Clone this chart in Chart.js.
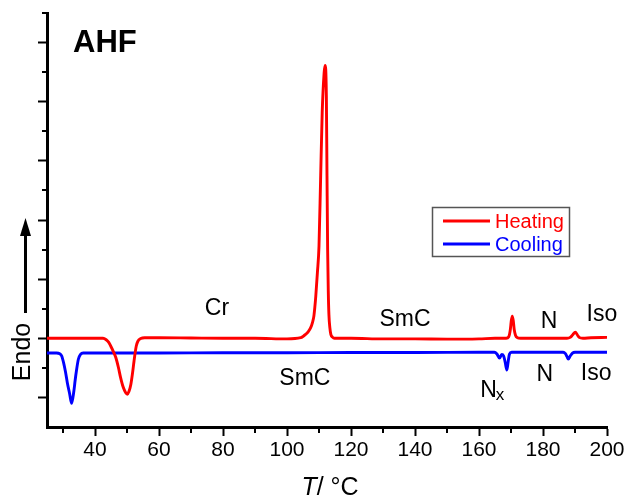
<!DOCTYPE html>
<html><head><meta charset="utf-8">
<script src="https://cdn.jsdelivr.net/npm/chart.js@4.4.0/dist/chart.umd.min.js"></script>
<style>html,body{margin:0;padding:0;background:#fff;}#wrap{width:629px;height:499px;position:relative;}</style>
</head><body><div id="wrap"><canvas id="c" width="629" height="499"></canvas></div>
<script>
// ---- data (temperature in °C, heat flow in arbitrary units) ----
const heatingT = [25,30,35,40,42.5,43.5,44.3,44.9,45.7,46.5,
  47.3,48,48.8,49.6,50.1,50.6,51.2,51.7,52.2,52.6,
  52.9,53.4,54.3,55.5,60,70,80,90,100,104.3,
  105.1,105.8,106.6,107.4,108,108.4,108.7,109,109.5,110,
  110.5,111,111.6,111.9,112.3,112.5,112.7,112.9,113.1,113.4,
  113.7,114.2,114.8,116,120,130,140,150,160,165,
  168.5,169.3,169.8,170.1,170.4,170.7,171.0,171.4,172,173,
  180,185,187.5,188.5,189.3,190.1,190.7,191.3,192.5,195,200];
const heatingV = [0,0,0,0,0,-0.05,-0.14,-0.26,-0.44,-0.65,
  -0.98,-1.33,-1.65,-1.84,-1.89,-1.8,-1.56,-1.2,-0.77,-0.45,
  -0.26,-0.1,-0.01,0.02,0.02,0.01,0.0,0.0,-0.02,0.02,
  0.07,0.13,0.22,0.36,0.55,0.75,1.05,1.43,2.22,3.12,
  5.38,7.63,8.98,9.23,8.2,5.5,3.0,1.6,0.8,0.35,
  0.13,0.04,0.0,0.0,0.0,-0.02,-0.02,-0.03,-0.02,0.0,
  0.0,0.05,0.3,0.6,0.75,0.6,0.3,0.1,0.02,0.0,
  0.0,0.0,0.0,0.03,0.12,0.21,0.12,0.03,0.0,0.02,0.03];
const coolingT = [25,28,29,29.6,30.3,30.8,31.35,32.1,32.7,33.4,
  33.8,34.2,34.8,35.5,36.3,37.5,60,80,100,120,
  140,160,164.8,165.6,166.4,167.1,167.7,168.2,168.7,169.1,
  169.5,170.2,175,180,186.3,187,187.5,187.9,188.5,189.2,
  190,195,200];
const coolingV = [-0.5,-0.5,-0.52,-0.6,-0.88,-1.15,-1.5,-1.89,-2.2,-1.78,
  -1.42,-1.1,-0.71,-0.54,-0.5,-0.5,-0.5,-0.49,-0.49,-0.48,
  -0.48,-0.47,-0.47,-0.53,-0.67,-0.55,-0.6,-0.82,-1.07,-0.8,
  -0.54,-0.47,-0.47,-0.47,-0.47,-0.52,-0.62,-0.7,-0.6,-0.5,
  -0.47,-0.47,-0.47];
const seriesNames = ['Heating','Cooling'];
const seriesColors = ['#ff0000','#0000ff'];
const xTickLabels = [40,60,80,100,120,140,160,180,200];
const xMinorTicks = [30,50,70,90,110,130,150,170,190];
const yMajorTicks = [-2,0,2,4,6,8,10];
const yMinorTicks = [-1,1,3,5,7,9,11];
const phaseLabels = ['Cr','SmC','N','Iso','SmC','N_x','N','Iso'];
const phaseT = [78.1,136.9,181.9,198.4,105.6,164.3,180.6,196.6];
const phaseV = [1.05,0.71,0.64,0.85,-1.29,-1.72,-1.18,-1.12];
const sampleName = 'AHF';
const xTitle = ['T', '/ °C'];
const yTitle = 'Endo';

const FONT = "'Liberation Sans', Arial, sans-serif";

const decor = {
  id: 'decor',
  afterDraw(chart) {
    const ctx = chart.ctx, xs = chart.scales.x, ys = chart.scales.y, ca = chart.chartArea;
    ctx.save();
    // minor ticks
    ctx.strokeStyle = '#000'; ctx.lineWidth = 2;
    ctx.beginPath();
    xMinorTicks.forEach(v => { const p = Math.round(xs.getPixelForValue(v)); ctx.moveTo(p, ca.bottom); ctx.lineTo(p, ca.bottom + 6); });
    yMinorTicks.forEach(v => { const p = Math.round(ys.getPixelForValue(v)); ctx.moveTo(ca.left, p); ctx.lineTo(ca.left - 5, p); });
    ctx.stroke();
    // phase labels
    ctx.fillStyle = '#000';
    ctx.textAlign = 'center'; ctx.textBaseline = 'alphabetic';
    const fs = 23;
    phaseLabels.forEach((lab, i) => {
      const px = xs.getPixelForValue(phaseT[i]);
      const py = ys.getPixelForValue(phaseV[i]) + fs * 0.358;
      if (lab.includes('_')) {
        const [a, b] = lab.split('_');
        ctx.font = fs + 'px ' + FONT;
        const wa = ctx.measureText(a).width;
        ctx.font = '17px ' + FONT;
        const wb = ctx.measureText(b).width;
        const x0 = px - (wa + wb) / 2;
        ctx.textAlign = 'left';
        ctx.font = fs + 'px ' + FONT;
        ctx.fillText(a, x0, py);
        ctx.font = '17px ' + FONT;
        ctx.fillText(b, x0 + wa - 1, py + 3);
        ctx.textAlign = 'center';
      } else {
        ctx.font = fs + 'px ' + FONT;
        ctx.fillText(lab, px, py);
      }
    });
    // sample name
    ctx.textAlign = 'left';
    ctx.font = 'bold 31px ' + FONT;
    ctx.fillText(sampleName, ca.left + 26, ca.top + 39);
    // x title
    ctx.font = 'italic 25px ' + FONT;
    const w1 = ctx.measureText(xTitle[0]).width;
    ctx.font = '25px ' + FONT;
    const w2 = ctx.measureText(xTitle[1]).width;
    const cx = (ca.left + ca.right) / 2 + 3;
    let tx = cx - (w1 + w2) / 2;
    ctx.font = 'italic 25px ' + FONT;
    ctx.fillText(xTitle[0], tx, 495);
    ctx.font = '25px ' + FONT;
    ctx.fillText(xTitle[1], tx + w1, 495);
    // y title rotated
    ctx.save();
    ctx.translate(30, 352);
    ctx.rotate(-Math.PI / 2);
    ctx.textAlign = 'center';
    ctx.font = '25px ' + FONT;
    ctx.fillText(yTitle, 0, 0);
    ctx.restore();
    // arrow
    ctx.strokeStyle = '#000'; ctx.lineWidth = 3;
    ctx.beginPath(); ctx.moveTo(25.5, 313); ctx.lineTo(25.5, 232); ctx.stroke();
    ctx.beginPath(); ctx.moveTo(25.5, 218); ctx.lineTo(31, 236); ctx.lineTo(20, 236); ctx.closePath(); ctx.fill();
    // legend
    ctx.lineWidth = 1.5; ctx.strokeStyle = '#555';
    ctx.strokeRect(432.5, 207.5, 137, 49);
    ctx.font = '20px ' + FONT;
    ctx.textAlign = 'left';
    chart.data.datasets.forEach((ds, i) => {
      const y = 221 + i * 23;
      ctx.strokeStyle = ds.borderColor; ctx.lineWidth = 3;
      ctx.beginPath(); ctx.moveTo(443, y); ctx.lineTo(490, y); ctx.stroke();
      ctx.fillStyle = ds.borderColor;
      ctx.fillText(ds.label, 495, y + 7);
    });
    ctx.restore();
  }
};

const mk = (T, V) => T.map((t, i) => ({ x: t, y: V[i] }));

new Chart(document.getElementById('c').getContext('2d'), {
  type: 'line',
  data: {
    datasets: [
      { label: seriesNames[0], data: mk(heatingT, heatingV), borderColor: seriesColors[0], borderWidth: 2.9, pointRadius: 0, cubicInterpolationMode: 'monotone', fill: false },
      { label: seriesNames[1], data: mk(coolingT, coolingV), borderColor: seriesColors[1], borderWidth: 2.9, pointRadius: 0, cubicInterpolationMode: 'monotone', fill: false }
    ]
  },
  options: {
    responsive: false, animation: false, devicePixelRatio: 1,
    layout: { padding: { left: 0, right: 22, top: 13, bottom: 0 } },
    plugins: { legend: { display: false }, tooltip: { enabled: false } },
    scales: {
      x: {
        type: 'linear', min: 25, max: 200,
        afterBuildTicks: s => { s.ticks = xTickLabels.map(v => ({ value: v })); },
        afterFit: s => { s.height = 72; },
        grid: { display: true, drawOnChartArea: false, drawTicks: true, tickLength: 9, tickWidth: 2, tickColor: '#000' },
        border: { display: true, color: '#000', width: 3 },
        ticks: { color: '#000', font: { family: FONT, size: 21 }, padding: 2, maxRotation: 0, autoSkip: false }
      },
      y: {
        type: 'linear', min: -3, max: 11,
        afterBuildTicks: s => { s.ticks = yMajorTicks.map(v => ({ value: v })); },
        afterFit: s => { s.width = 47; },
        grid: { display: true, drawOnChartArea: false, drawTicks: true, tickLength: 9, tickWidth: 2, tickColor: '#000' },
        border: { display: true, color: '#000', width: 3 },
        ticks: { display: false }
      }
    }
  },
  plugins: [decor]
});
</script>
</body></html>
